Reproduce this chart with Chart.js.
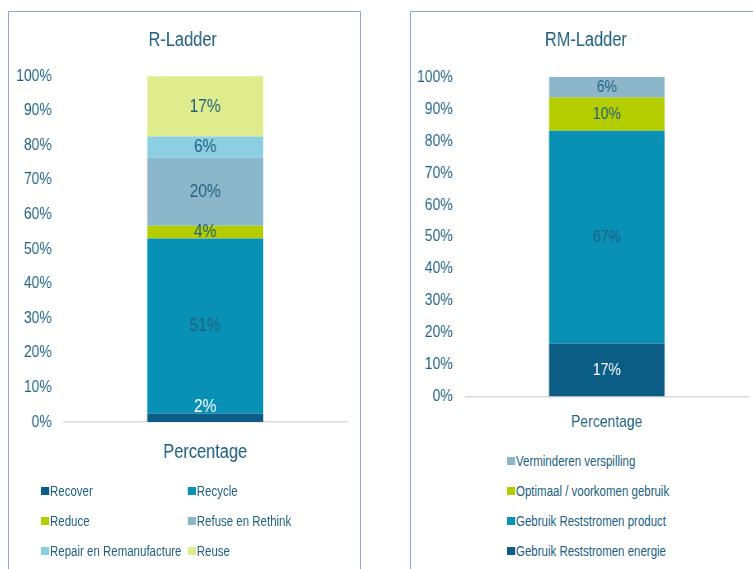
<!DOCTYPE html>
<html>
<head>
<meta charset="utf-8">
<script src="https://cdn.jsdelivr.net/npm/chart.js@4"></script>
<style>
  html, body { margin: 0; padding: 0; background: #fff; overflow: hidden; }
  body { width: 753px; height: 569px; position: relative; }
  .box { position: absolute; border: 1px solid #8eaadc; box-sizing: border-box; }
  #boxL { left: 8px; top: 11px; width: 353px; height: 600px; }
  #boxR { left: 410px; top: 11px; width: 400px; height: 600px; }
  /* narrow text look: chart drawn wider, then squeezed */
  .wrap { position: absolute; width: 429px; transform: scaleX(0.82); transform-origin: 0 0; }
  #wrapL { left: 8px; top: 11px; height: 471px; }
  #wrapR { left: 410px; top: 11px; height: 438px; }
  .legend {
    position: absolute; display: grid; grid-auto-rows: 30px;
    font: 14px 'Liberation Sans', Arial, sans-serif;
    color: #21607f; transform: scaleX(0.82); transform-origin: 0 0;
  }
  #legendL { left: 41px; top: 481px; grid-template-columns: 179px 179px; }
  #legendR { left: 507px; top: 451px; grid-template-columns: 290px; }
  .item { display: flex; align-items: center; height: 20px; white-space: nowrap; }
  .item span.sw { width: 10px; height: 8px; margin-right: 1px; display: inline-block; }
</style>
</head>
<body>
<div class="box" id="boxL"></div>
<div class="box" id="boxR"></div>
<div class="wrap" id="wrapL"><canvas id="chartL"></canvas></div>
<div class="wrap" id="wrapR"><canvas id="chartR"></canvas></div>
<div class="legend" id="legendL"></div>
<div class="legend" id="legendR"></div>
<script>
// R-Ladder (bottom to top)
const rCategories = ['Percentage'];
const rSeries = ['Recover', 'Recycle', 'Reduce', 'Refuse en Rethink', 'Repair en Remanufacture', 'Reuse'];
const rValues = [2.4, 50.6, 3.7, 19.7, 6.1, 17.4];
const rColors = ['#0b5d85', '#0891b5', '#b3cd00', '#8cb7ca', '#8ccfe2', '#dfec8d'];

// RM-Ladder (bottom to top)
const rmCategories = ['Percentage'];
const rmSeries = ['Gebruik Reststromen energie', 'Gebruik Reststromen product', 'Optimaal / voorkomen gebruik', 'Verminderen verspilling'];
const rmValues = [16.6, 66.6, 10.4, 6.4];
const rmColors = ['#0b5d85', '#0891b5', '#b3cd00', '#8cb7ca'];

const yTicks = [0, 10, 20, 30, 40, 50, 60, 70, 80, 90, 100];

const textColor = '#21607f';
const fontFam = "'Liberation Sans', Arial, sans-serif";
Chart.defaults.font.family = fontFam;
Chart.defaults.color = textColor;

// labels in the middle of each stacked piece
const segLabels = {
  id: 'segLabels',
  afterDatasetsDraw(chart, args, opts) {
    const ctx = chart.ctx;
    ctx.save();
    ctx.font = opts.size + 'px ' + fontFam;
    ctx.textAlign = 'center';
    ctx.textBaseline = 'middle';
    chart.data.datasets.forEach((ds, i) => {
      const meta = chart.getDatasetMeta(i);
      meta.data.forEach((bar, j) => {
        const h = bar.base - bar.y;
        let y = (bar.y + bar.base) / 2;
        if (h < 10) y = bar.y - 7; // too thin, put it just above
        ctx.fillStyle = ds.labelColor || textColor;
        ctx.fillText(Math.round(ds.data[j]) + '%', bar.x, y);
      });
    });
    ctx.restore();
  }
};

function buildLegend(chart, elId, reverse) {
  const el = document.getElementById(elId);
  el.innerHTML = '';
  let sets = chart.data.datasets.slice();
  if (reverse) sets.reverse();
  sets.forEach(ds => {
    const item = document.createElement('div');
    item.className = 'item';
    const sw = document.createElement('span');
    sw.className = 'sw';
    sw.style.background = ds.backgroundColor;
    item.appendChild(sw);
    item.appendChild(document.createTextNode(ds.label));
    el.appendChild(item);
  });
}

function makeChart(canvasId, categories, series, values, colors, cfg) {
  const datasets = series.map((name, i) => ({
    label: name,
    data: [values[i]],
    backgroundColor: colors[i],
    labelColor: i === 0 ? '#ffffff' : textColor,
    barPercentage: 0.41,
    categoryPercentage: 1
  }));
  return new Chart(document.getElementById(canvasId), {
    type: 'bar',
    data: { labels: categories, datasets },
    options: {
      responsive: true,
      maintainAspectRatio: false,
      animation: false,
      layout: { padding: { left: cfg.padLeft, right: cfg.padRight, top: 0, bottom: 0 } },
      plugins: {
        legend: { display: false },
        tooltip: { enabled: false },
        title: {
          display: true,
          text: cfg.title,
          color: textColor,
          font: { size: 20, weight: 'normal' },
          padding: { top: 17, bottom: cfg.titleBottom }
        },
        segLabels: { size: cfg.labelSize }
      },
      scales: {
        x: {
          stacked: true,
          grid: { display: false, drawTicks: false },
          border: { color: '#d9d9d9', width: 1.5 },
          ticks: { color: textColor, font: { size: cfg.catSize }, padding: cfg.catPad }
        },
        y: {
          stacked: true,
          min: 0,
          max: 100,
          afterBuildTicks: axis => { axis.ticks = yTicks.map(v => ({ value: v })); },
          afterFit: axis => {
            axis.width = cfg.yWidth;
            axis._computeLabelArea = () => null; // labels may run past the axis box
          },
          grid: { display: false, drawTicks: false },
          border: { display: false },
          ticks: { color: textColor, font: { size: 17 }, padding: cfg.tickPad, callback: v => v + '%' }
        }
      }
    },
    plugins: [segLabels]
  });
}

const chartL = makeChart('chartL', rCategories, rSeries, rValues, rColors, {
  title: 'R-Ladder', padLeft: 13, padRight: 16, yWidth: 55, titleBottom: 24,
  labelSize: 19, catSize: 20, catPad: 18, tickPad: 14.6
});
const chartR = makeChart('chartR', rmCategories, rmSeries, rmValues, rmColors, {
  title: 'RM-Ladder', padLeft: 17, padRight: 17, yWidth: 51, titleBottom: 25,
  labelSize: 17, catSize: 17, catPad: 16, tickPad: 15.9
});

buildLegend(chartL, 'legendL', false);
buildLegend(chartR, 'legendR', true);
</script>
</body>
</html>
